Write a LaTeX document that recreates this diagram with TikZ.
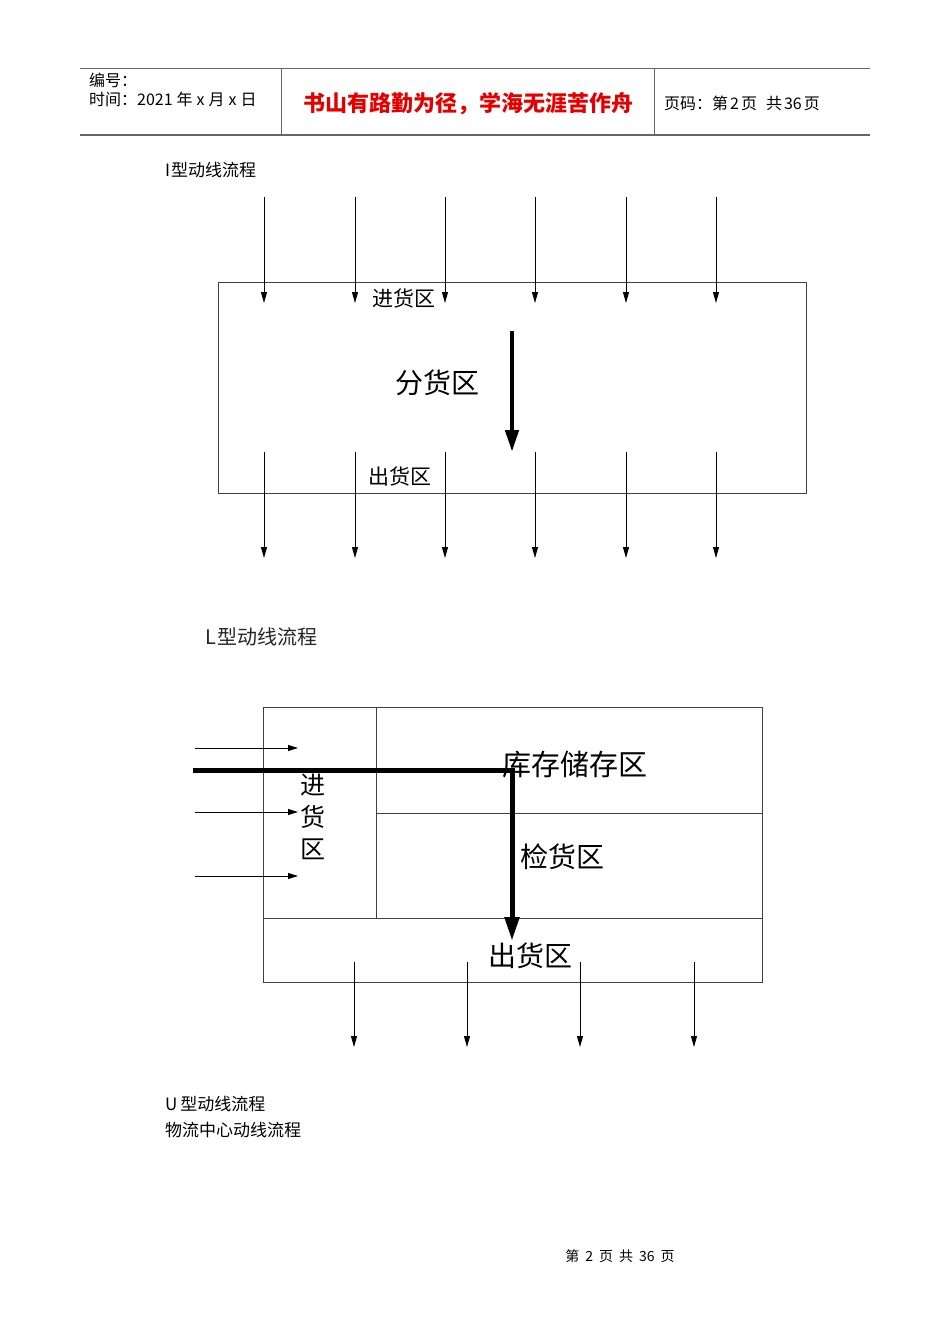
\documentclass[tikz,border=0pt]{standalone}
\usepackage{fontspec}
\setmainfont{Liberation Sans}
\newfontfamily\cjk{Noto Sans CJK SC}
\usetikzlibrary{arrows.meta}
\tikzset{
  frame/.style={draw=black!75, line width=1pt},
  hdrline/.style={draw=black!60, line width=1pt},
  flow/.style={draw=black, line width=0.9pt, -{Triangle[width=6pt,length=11pt]}},
  bigflow/.style={draw=black, line width=5pt, -{Triangle[width=14pt,length=24pt]}},
  lbl/.style={inner sep=0pt, font=\cjk},
  txt/.style={inner sep=0pt, anchor=west, font=\cjk}
}
\begin{document}
\begin{tikzpicture}[x=1pt,y=-1pt]
\useasboundingbox[fill=white] (0,0) rectangle (950,1344);
% header
\draw[hdrline, line width=0.8pt] (80,68) -- (870,68);
\draw[hdrline, line width=1.6pt] (80,135) -- (870,135);
\draw[hdrline, line width=0.8pt] (281,68) -- (281,135);
\draw[hdrline, line width=0.8pt] (654,68) -- (654,135);
\node[txt, font=\cjk\fontsize{16}{16}\selectfont] (bh) at (89,80) {编号：};
\node[txt, font=\cjk\fontsize{16}{16}\selectfont] (sj) at (89,99) {时间：2021\hspace{4pt}年\hspace{4pt}x\hspace{4pt}月\hspace{4pt}x\hspace{4pt}日};
\node[lbl, text=red!90!black, font=\cjk\bfseries\fontsize{22}{22}\selectfont] (motto) at (468,104) {书山有路勤为径，学海无涯苦作舟};
\node[txt, font=\cjk\fontsize{16}{16}\selectfont] (ym) at (664,103) {页码：第\hspace{2pt}2\hspace{2pt}页\hspace{9pt}共\hspace{2pt}36\hspace{2pt}页};
% I type
\node[txt, font=\cjk\fontsize{17}{17}\selectfont] (ti) at (165,170) {I\hspace{1pt}型动线流程};
\node[frame, minimum width=588pt, minimum height=211pt, inner sep=0pt] (iz) at (512,387.5) {};
\foreach \x [count=\i] in {264,355,445,535,626,716}{
  \coordinate (it\i) at (\x,197);
  \coordinate (ib\i) at (\x,303);
  \coordinate (ot\i) at (\x,452);
  \coordinate (ob\i) at (\x,558);
  \draw[flow] (it\i) -- (ib\i);
  \draw[flow] (ot\i) -- (ob\i);
}
\coordinate (ia) at (512,331);
\coordinate (ib) at (512,452);
\draw[bigflow, line width=4.5pt, -{Triangle[width=13pt,length=22pt]}] (ia) -- (ib);
\node[lbl, font=\cjk\fontsize{21}{21}\selectfont] (jh) at (404,298) {进货区};
\node[lbl, font=\cjk\fontsize{28}{28}\selectfont] (fh) at (437,383) {分货区};
\node[lbl, font=\cjk\fontsize{21}{21}\selectfont] (ch) at (400,476) {出货区};
% L type
\node[txt, font=\cjk\fontsize{20}{20}\selectfont, text=black!85] (tl) at (205,637) {L\hspace{1pt}型动线流程};
\node[frame, minimum width=499pt, minimum height=275pt, inner sep=0pt] (lz) at (512.5,844.5) {};
\coordinate (v1) at (376,707);
\coordinate (v2) at (376,918);
\coordinate (h1) at (376,813);
\coordinate (h2) at (762,813);
\coordinate (h3) at (263,918);
\coordinate (h4) at (762,918);
\draw[frame] (v1) -- (v2);
\draw[frame] (h1) -- (h2);
\draw[frame] (h3) -- (h4);
\foreach \y [count=\i] in {748,812,876}{
  \coordinate (la\i) at (195,\y);
  \coordinate (lb\i) at (298,\y);
  \draw[flow, line width=0.8pt, -{Triangle[width=6pt,length=10pt]}] (la\i) -- (lb\i);
}
\foreach \x [count=\i] in {354,467,580,694}{
  \coordinate (lt\i) at (\x,962);
  \coordinate (lo\i) at (\x,1047);
  \draw[flow] (lt\i) -- (lo\i);
}
\node[lbl, font=\cjk\fontsize{29}{29}\selectfont] (kc) at (575,765) {库存储存区};
\node[lbl, font=\cjk\fontsize{25}{25}\selectfont, align=center] (jh2) at (313,817) {进\\[7pt]货\\[7pt]区};
\node[lbl, font=\cjk\fontsize{28}{28}\selectfont] (jy) at (562,857) {检货区};
\node[lbl, font=\cjk\fontsize{28}{28}\selectfont] (ch2) at (530,956) {出货区};
\coordinate (ls) at (193,770);
\coordinate (lc) at (512,770);
\coordinate (le) at (512,941);
\draw[bigflow] (ls) -- (lc) -- (le);
% bottom text
\node[txt, font=\cjk\fontsize{17}{17}\selectfont] (tu) at (165,1104) {U\hspace{3pt}型动线流程};
\node[txt, font=\cjk\fontsize{17}{17}\selectfont] (tw) at (165,1130) {物流中心动线流程};
\node[lbl, font=\cjk\fontsize{14}{14}\selectfont] (ft) at (620,1256) {第\hspace{6pt}2\hspace{6pt}页\hspace{6pt}共\hspace{6pt}36\hspace{6pt}页};
\end{tikzpicture}
\end{document}
